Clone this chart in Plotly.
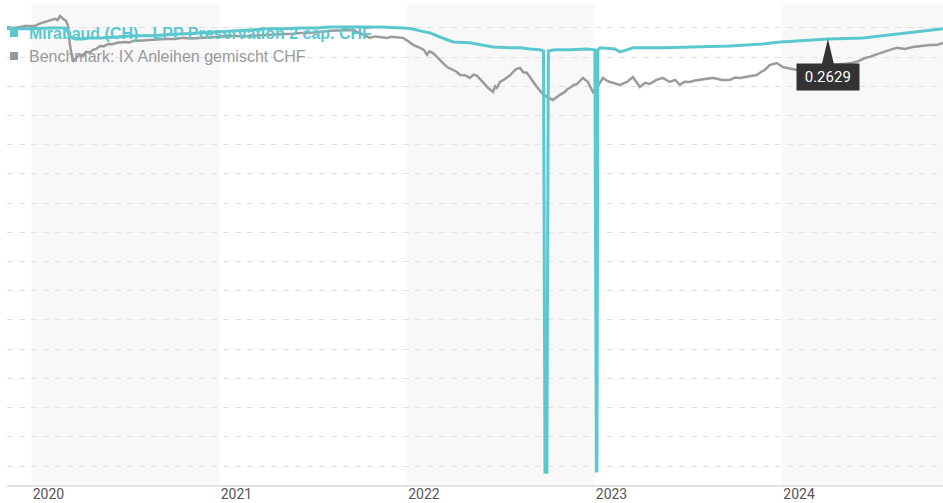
import math
import pandas as pd
import plotly.graph_objects as go

# ---------------- data (decimal years, performance units) ----------------
fund_name = "Mirabaud (CH) - LPP Preservation 2 cap. CHF"
bench_name = "Benchmark: IX Anleihen gemischt CHF"

fund_t = [2019.870, 2019.992, 2020.099, 2020.178, 2020.194, 2020.205, 2020.232, 2020.274,
          2020.312, 2020.365, 2020.456, 2020.541, 2020.631, 2020.807, 2020.898, 2020.988,
          2021.074, 2021.164, 2021.255, 2021.340, 2021.430, 2021.521, 2021.590, 2021.713,
          2021.857, 2021.979, 2022.027, 2022.070, 2022.123, 2022.176, 2022.214, 2022.246,
          2022.336, 2022.427, 2022.459, 2022.549, 2022.603, 2022.656, 2022.709, 2022.728,
          2022.736, 2022.746, 2022.754, 2022.789, 2022.869, 2022.960, 2022.991, 2023.002,
          2023.010, 2023.013, 2023.018, 2023.029, 2023.109, 2023.135, 2023.173, 2023.205,
          2023.364, 2023.546, 2023.721, 2023.897, 2023.988, 2024.078, 2024.244, 2024.430,
          2024.521, 2024.611, 2024.707, 2024.787, 2024.856]
fund_v = [-0.03, -0.03, 0.00, 0.00, -0.07, -0.31, -0.38, -0.38,
          -0.34, -0.34, -0.31, -0.27, -0.27, -0.21, -0.17, -0.14,
          -0.10, -0.07, -0.03, -0.03, 0.00, 0.00, 0.03, 0.03,
          0.03, 0.00, -0.03, -0.10, -0.17, -0.31, -0.41, -0.48,
          -0.51, -0.62, -0.65, -0.68, -0.68, -0.72, -0.75, -0.79,
          -15.21, -15.21, -0.79, -0.75, -0.75, -0.72, -0.75, -0.75,
          -15.17, -15.17, -0.75, -0.68, -0.72, -0.82, -0.75, -0.68,
          -0.68, -0.65, -0.62, -0.55, -0.48, -0.45, -0.38, -0.34,
          -0.27, -0.21, -0.14, -0.07, -0.03]

bench_t = [2019.870, 2019.900, 2019.939, 2019.965, 2019.992, 2020.019, 2020.040, 2020.056,
           2020.075, 2020.099, 2020.125, 2020.140, 2020.152, 2020.168, 2020.184, 2020.194,
           2020.205, 2020.221, 2020.237, 2020.258, 2020.275, 2020.290, 2020.310, 2020.328,
           2020.345, 2020.365, 2020.385, 2020.408, 2020.430, 2020.456, 2020.498, 2020.520,
           2020.541, 2020.590, 2020.631, 2020.670, 2020.711, 2020.760, 2020.807, 2020.850,
           2020.898, 2020.940, 2020.988, 2021.040, 2021.084, 2021.120, 2021.164, 2021.200,
           2021.244, 2021.290, 2021.340, 2021.390, 2021.430, 2021.480, 2021.521, 2021.560,
           2021.590, 2021.630, 2021.670, 2021.713, 2021.761, 2021.803, 2021.830, 2021.857,
           2021.894, 2021.915, 2021.937, 2021.979, 2022.006, 2022.033, 2022.070, 2022.090,
           2022.107, 2022.120, 2022.139, 2022.160, 2022.176, 2022.195, 2022.214, 2022.246,
           2022.265, 2022.283, 2022.310, 2022.336, 2022.355, 2022.374, 2022.405, 2022.432,
           2022.459, 2022.470, 2022.480, 2022.496, 2022.515, 2022.533, 2022.550, 2022.565,
           2022.585, 2022.603, 2022.619, 2022.640, 2022.666, 2022.693, 2022.720, 2022.746,
           2022.778, 2022.800, 2022.816, 2022.842, 2022.855, 2022.869, 2022.890, 2022.906,
           2022.925, 2022.938, 2022.965, 2022.991, 2023.013, 2023.030, 2023.045, 2023.065,
           2023.082, 2023.110, 2023.135, 2023.173, 2023.205, 2023.242, 2023.270, 2023.295,
           2023.330, 2023.364, 2023.402, 2023.430, 2023.455, 2023.480, 2023.508, 2023.535,
           2023.562, 2023.600, 2023.631, 2023.679, 2023.721, 2023.750, 2023.775, 2023.820,
           2023.865, 2023.890, 2023.908, 2023.934, 2023.972, 2024.004, 2024.041, 2024.078,
           2024.110, 2024.148, 2024.175, 2024.201, 2024.254, 2024.300, 2024.334, 2024.370,
           2024.398, 2024.441, 2024.467, 2024.495, 2024.521, 2024.550, 2024.574, 2024.611,
           2024.654, 2024.696, 2024.734, 2024.760, 2024.787, 2024.824, 2024.856]
bench_v = [0.03, 0.00, 0.03, 0.07, 0.07, 0.07, 0.14, 0.17,
           0.21, 0.24, 0.31, 0.27, 0.41, 0.31, 0.24, 0.10,
           -0.58, -1.16, -1.03, -0.92, -0.96, -0.82, -0.84, -0.75,
           -0.72, -0.62, -0.63, -0.55, -0.56, -0.51, -0.48, -0.50,
           -0.45, -0.43, -0.41, -0.41, -0.38, -0.38, -0.34, -0.36,
           -0.34, -0.33, -0.31, -0.30, -0.27, -0.29, -0.27, -0.25,
           -0.24, -0.23, -0.21, -0.20, -0.17, -0.17, -0.14, -0.13,
           -0.10, -0.09, -0.07, -0.07, -0.21, -0.34, -0.29, -0.31,
           -0.34, -0.30, -0.31, -0.34, -0.45, -0.58, -0.68, -0.75,
           -0.92, -0.80, -0.86, -0.99, -1.10, -1.22, -1.34, -1.44,
           -1.50, -1.61, -1.62, -1.71, -1.60, -1.64, -1.85, -2.05,
           -2.19, -2.00, -2.05, -1.85, -1.78, -1.71, -1.62, -1.51,
           -1.40, -1.37, -1.51, -1.54, -1.78, -2.02, -2.23, -2.36,
           -2.47, -2.35, -2.29, -2.19, -2.10, -2.05, -1.95, -1.92,
           -1.80, -1.71, -1.85, -2.19, -2.05, -1.85, -1.71, -1.80,
           -1.85, -1.90, -1.95, -1.85, -1.68, -2.02, -1.88, -1.92,
           -1.78, -1.71, -1.85, -1.78, -1.95, -1.84, -1.85, -1.80,
           -1.78, -1.74, -1.71, -1.78, -1.78, -1.70, -1.71, -1.66,
           -1.61, -1.50, -1.44, -1.27, -1.20, -1.34, -1.40, -1.44,
           -1.40, -1.40, -1.36, -1.34, -1.27, -1.26, -1.23, -1.20,
           -1.16, -1.03, -0.99, -0.92, -0.86, -0.80, -0.75, -0.68,
           -0.72, -0.65, -0.62, -0.60, -0.58, -0.58, -0.51]

year_ticks = [2020, 2021, 2022, 2023, 2024]
year_labels = ["2020", "2021", "2022", "2023", "2024"]
shaded_years = [2020, 2022, 2024]
tooltip_t = 2024.244
tooltip_label = "0.2629"

TEAL = "#5bc8cf"
GREY = "#9b9b9b"


def to_date(t):
    y = int(math.floor(t))
    start = pd.Timestamp(y, 1, 1)
    span = (pd.Timestamp(y + 1, 1, 1) - start).days
    return start + pd.Timedelta(days=(t - y) * span)


fund_x = [to_date(t) for t in fund_t]
bench_x = [to_date(t) for t in bench_t]
x_start = min(fund_x[0], bench_x[0])
x_end = max(fund_x[-1], bench_x[-1])

fig = go.Figure()
fig.add_trace(go.Scatter(x=bench_x, y=bench_v, mode="lines", name=bench_name,
                         line=dict(color=GREY, width=2.5), showlegend=False,
                         hoverinfo="skip"))
fig.add_trace(go.Scatter(x=fund_x, y=fund_v, mode="lines", name=fund_name,
                         line=dict(color=TEAL, width=3), showlegend=False,
                         hoverinfo="skip"))

shapes = []
for yr in shaded_years:
    x1 = min(pd.Timestamp(yr + 1, 1, 1), x_end)
    shapes.append(dict(type="rect", xref="x", yref="paper", x0=pd.Timestamp(yr, 1, 1),
                       x1=x1, y0=0, y1=1, fillcolor="#f8f8f8", line=dict(width=0),
                       layer="below"))

# legend squares
for i, col in enumerate([TEAL, "#999999"]):
    top = -25 - i * 23
    shapes.append(dict(type="rect", xref="paper", yref="paper", xsizemode="pixel",
                       ysizemode="pixel", xanchor=0, yanchor=1, x0=3, x1=11,
                       y0=top, y1=top - 8, fillcolor=col, line=dict(width=0)))

# tooltip pointer
ti = fund_t.index(tooltip_t)
shapes.append(dict(type="path", xref="x", yref="y", xsizemode="pixel", ysizemode="pixel",
                   xanchor=fund_x[ti], yanchor=fund_v[ti],
                   path="M -6,-25 L 0,0 L 6,-25 Z", fillcolor="#333333",
                   line=dict(width=0)))

annotations = [
    dict(xref="paper", yref="paper", x=0, y=1, xanchor="left", yanchor="middle",
         xshift=20, yshift=-29, showarrow=False, text="<b>" + fund_name + "</b>",
         font=dict(family="Liberation Sans, Arial", size=16, color=TEAL)),
    dict(xref="paper", yref="paper", x=0, y=1, xanchor="left", yanchor="middle",
         xshift=20, yshift=-52.5, showarrow=False, text=bench_name,
         font=dict(family="Liberation Sans, Arial", size=16, color="#999999")),
    dict(xref="x", yref="y", x=fund_x[ti], y=fund_v[ti], xanchor="center",
         yanchor="middle", yshift=-37.5, showarrow=False,
         text="\u00a0" + tooltip_label + "\u00a0", bgcolor="#333333", borderpad=4,
         font=dict(family="Roboto", size=15, color="#ffffff")),
]

fig.update_layout(
    width=943, height=503,
    margin=dict(l=7, r=0, t=4, b=18, autoexpand=False),
    paper_bgcolor="#ffffff", plot_bgcolor="#ffffff",
    shapes=shapes, annotations=annotations,
    showlegend=False,
    xaxis=dict(type="date", range=[x_start, x_end], showgrid=False, zeroline=False,
               automargin=False,
               showline=True, linecolor="#e2e2e2", linewidth=2,
               tickvals=[pd.Timestamp(y, 1, 1) for y in year_ticks], ticktext=year_labels,
               ticks="", ticklabelshift=17, ticklabelstandoff=-5,
               tickfont=dict(family="Roboto", size=14, color="#555555")),
    yaxis=dict(range=[-15.65, 0.82], dtick=1, tick0=0, showticklabels=False,
               automargin=False,
               showgrid=True, gridcolor="#e0e0e0", griddash="6px,6px", gridwidth=1,
               zeroline=False, showline=False),
)

fig.write_html("out.html", config={"displayModeBar": False},
               post_script="document.body.style.margin='0';document.body.style.overflow='hidden';")
